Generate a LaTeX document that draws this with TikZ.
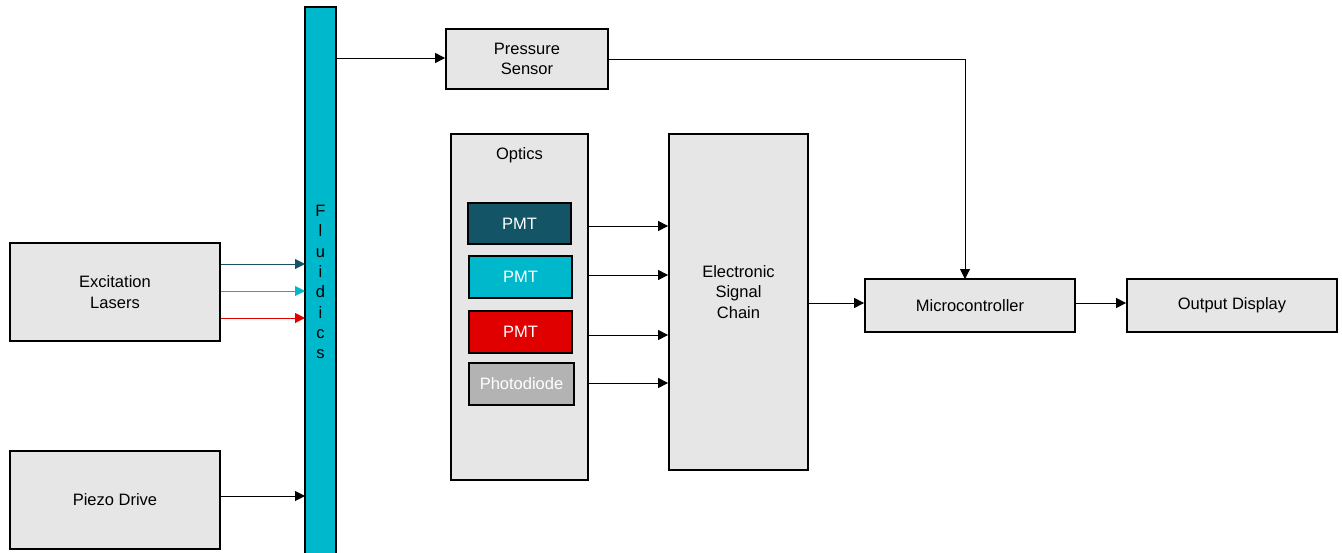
\documentclass[tikz,border=0pt]{standalone}
\usepackage{fontspec}
\setmainfont{Liberation Sans}
\usetikzlibrary{arrows.meta}
\definecolor{boxgray}{HTML}{E6E6E6}
\definecolor{tealdark}{HTML}{135566}
\definecolor{cyanf}{HTML}{00B8CC}
\definecolor{redf}{HTML}{E00000}
\definecolor{pdgray}{HTML}{B3B3B3}
\begin{document}
\begin{tikzpicture}[x=1pt,y=-1pt,
  blk/.style={draw=black,line width=1.8pt,fill=boxgray,inner sep=0pt,
    font=\fontsize{16.5}{20.5}\selectfont,align=center},
  sub/.style={draw=black,line width=1.8pt,inner sep=0pt,text=white,
    font=\fontsize{16.5}{20.5}\selectfont,align=center},
  conn/.style={line width=1pt,-{Triangle[length=10pt,width=10pt]}}
]
\useasboundingbox (0,0) rectangle (1342,552);
% Fluidics bar
\path[fill=cyanf] (305,7) rectangle (336,560);
\draw[line width=1.8pt] (305,560) -- (305,7) -- (336,7) -- (336,560);
\node[font=\fontsize{16.5}{20.3}\selectfont,align=center] (fl) at (320.5,282)
  {F\\l\\u\\i\\d\\i\\c\\s};
\coordinate (flt) at (336,58);
\coordinate (fa) at (305,264);
\coordinate (fb) at (305,291);
\coordinate (fc) at (305,318);
\coordinate (fd) at (305,496);
% boxes
\node[blk,minimum width=162pt,minimum height=60pt] (ps) at (527,59) {Pressure\\Sensor};
\node[blk,minimum width=137pt,minimum height=346pt] (opt) at (519.5,307) {};
\node[font=\fontsize{16.5}{20.5}\selectfont] (optl) at (519.5,155) {Optics};
\node[sub,fill=tealdark,minimum width=103pt,minimum height=41pt] (p1) at (519.5,223.5) {PMT};
\node[sub,fill=cyanf,minimum width=103pt,minimum height=42pt] (p2) at (520.5,277) {PMT};
\node[sub,fill=redf,minimum width=103pt,minimum height=42pt] (p3) at (520.5,332) {PMT};
\node[sub,fill=pdgray,minimum width=105pt,minimum height=42pt] (pd) at (521.5,384) {Photodiode};
\node[blk,minimum width=139pt,minimum height=336pt] (esc) at (738.5,302) {};
\node[font=\fontsize{16.5}{20.5}\selectfont,align=center] (escl) at (738.5,292) {Electronic\\Signal\\Chain};
\node[blk,minimum width=210pt,minimum height=53pt] (mc) at (970,305.5) {Microcontroller};
\node[blk,minimum width=210pt,minimum height=53pt] (od) at (1232,305.5) {Output Display};
\node[blk,minimum width=210pt,minimum height=98pt] (el) at (115,292) {Excitation\\Lasers};
\node[blk,minimum width=210pt,minimum height=98pt] (pz) at (115,500) {Piezo Drive};
\coordinate (mcin) at (965,279);
% connectors
\draw[conn] (flt) -- (ps.west |- flt);
\draw[conn] (ps.east) -| (mcin);
\draw[conn] (opt.east |- 0,226) -- (esc.west |- 0,226);
\draw[conn] (opt.east |- 0,275) -- (esc.west |- 0,275);
\draw[conn] (opt.east |- 0,335) -- (esc.west |- 0,335);
\draw[conn] (opt.east |- 0,383) -- (esc.west |- 0,383);
\draw[conn] (esc.east |- 0,303) -- (mc.west |- 0,303);
\draw[conn] (mc.east |- 0,303) -- (od.west |- 0,303);
\draw[conn,draw=tealdark,color=tealdark] (el.east |- fa) -- (fa);
\draw[conn,draw=cyanf,color=cyanf] (el.east |- fb) -- (fb);
\draw[conn,draw=redf,color=redf] (el.east |- fc) -- (fc);
\draw[conn] (pz.east |- fd) -- (fd);
\end{tikzpicture}
\end{document}
